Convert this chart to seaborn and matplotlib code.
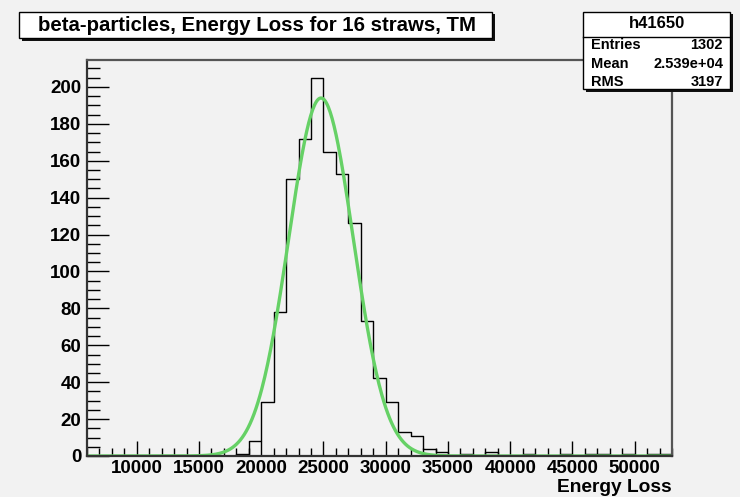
import numpy as np
import pandas as pd
import matplotlib
matplotlib.use("Agg")
import matplotlib.pyplot as plt
import seaborn as sns
from matplotlib.patches import Rectangle
from matplotlib.lines import Line2D
from matplotlib.ticker import MultipleLocator, FixedLocator

# ---------------- data ----------------
bin_lo = 6000
bin_width = 1000
counts = [0, 0, 0, 0, 0, 0, 0, 0, 0, 0,      # 6000 .. 15000
          0, 0, 1, 8, 29, 78, 150, 172, 205, 165,  # 16000 .. 25000
          153, 126, 73, 42, 29, 13, 11, 4, 2, 0,   # 26000 .. 35000
          1, 0, 2, 0, 0, 1, 0, 0, 1, 0,           # 36000 .. 45000
          1, 1, 0, 1, 0, 1, 1]                    # 46000 .. 52000
# Gaussian fit parameters (constant, mean, sigma)
fit_const = 194.0
fit_mean = 24800.0
fit_sigma = 2600.0

title = "beta-particles, Energy Loss for 16 straws, TM"
hist_name = "h41650"
stats_labels = ["Entries", "Mean", "RMS"]
stats_values = ["1302", "2.539e+04", "3197"]
x_label = "Energy Loss"
x_major = [10000, 15000, 20000, 25000, 30000, 35000, 40000, 45000, 50000]
y_major = [0, 20, 40, 60, 80, 100, 120, 140, 160, 180, 200]

nbins = len(counts)
lo, hi = bin_lo, bin_lo + bin_width * nbins
centers = bin_lo + bin_width * (np.arange(nbins) + 0.5)
df = pd.DataFrame({"energy": centers, "n": counts})

xs = np.linspace(lo, hi, 600)
fit_df = pd.DataFrame({"energy": xs,
                       "fit": fit_const * np.exp(-0.5 * ((xs - fit_mean) / fit_sigma) ** 2)})

# ---------------- figure ----------------
W, H = 740, 497
BG = "#f2f2f2"
plt.rcParams["font.family"] = ["Liberation Sans", "DejaVu Sans"]
fig = plt.figure(figsize=(W / 100, H / 100), dpi=100, facecolor=BG)

def fx(px):
    return px / W

def fy(py):
    return 1 - py / H

L, R, T, B = 87, 672, 60, 456
ax = fig.add_axes([fx(L), fy(B), fx(R) - fx(L), fy(T) - fy(B)])
ax.set_facecolor(BG)

sns.histplot(data=df, x="energy", weights="n", bins=nbins, binrange=(lo, hi),
             element="step", fill=False, color="black", linewidth=1.0, ax=ax)
sns.lineplot(data=fit_df, x="energy", y="fit", color="#66d166", linewidth=2.4, ax=ax)

ax.set_xlim(lo, hi)
ax.set_ylim(0, 214.6)
ax.xaxis.set_major_locator(FixedLocator(x_major))
ax.xaxis.set_minor_locator(MultipleLocator(1000))
ax.yaxis.set_major_locator(FixedLocator(y_major))
ax.yaxis.set_minor_locator(MultipleLocator(5))
ax.tick_params(axis="x", which="major", direction="in", length=11, width=1, pad=3,
               labelsize=13.5, colors="black")
ax.tick_params(axis="x", which="minor", direction="in", length=6, width=1)
ax.tick_params(axis="y", which="major", direction="in", length=16, width=1, pad=4,
               labelsize=13.5)
ax.tick_params(axis="y", which="minor", direction="in", length=9, width=1)
for lab in ax.get_xticklabels() + ax.get_yticklabels():
    lab.set_fontweight("bold")
ax.set_xlabel("")
ax.set_ylabel("")
for s in ["left", "bottom"]:
    ax.spines[s].set_color("#333333")
    ax.spines[s].set_linewidth(1.6)
for s in ["top", "right"]:
    ax.spines[s].set_color("#555555")
    ax.spines[s].set_linewidth(1.6)

fig.text(fx(R), fy(487), x_label, ha="right", va="center", fontsize=13.8,
         fontweight="bold")

# ---------------- title box ----------------
def box(x0, y0, x1, y1):
    sh = 2.5
    fig.add_artist(Rectangle((fx(x0 + sh), fy(y1 + sh)), fx(x1 - x0), (y1 - y0) / H,
                             transform=fig.transFigure, facecolor="#111111",
                             edgecolor="none", zorder=5))
    fig.add_artist(Rectangle((fx(x0), fy(y1)), fx(x1 - x0), (y1 - y0) / H,
                             transform=fig.transFigure, facecolor="white",
                             edgecolor="black", linewidth=1.0, zorder=6))

box(19, 12, 492, 38)
fig.text(fx(257), fy(25.5), title, ha="center", va="center", fontsize=14.7,
         fontweight="bold", zorder=7)

# ---------------- stats box ----------------
box(583, 12, 730, 89)
fig.add_artist(Line2D([fx(583), fx(730)], [fy(36.5), fy(36.5)],
                      transform=fig.transFigure, color="black", linewidth=1.0, zorder=7))
fig.text(fx(656.5), fy(23), hist_name, ha="center", va="center", fontsize=12,
         fontweight="bold", zorder=7)
for i, (lab, val) in enumerate(zip(stats_labels, stats_values)):
    yy = 45 + i * 18.5
    fig.text(fx(591), fy(yy), lab, ha="left", va="center", fontsize=10.5,
             fontweight="bold", zorder=7)
    fig.text(fx(723), fy(yy), val, ha="right", va="center", fontsize=10.5,
             fontweight="bold", zorder=7)

fig.savefig("out.png", dpi=100, facecolor=BG)
